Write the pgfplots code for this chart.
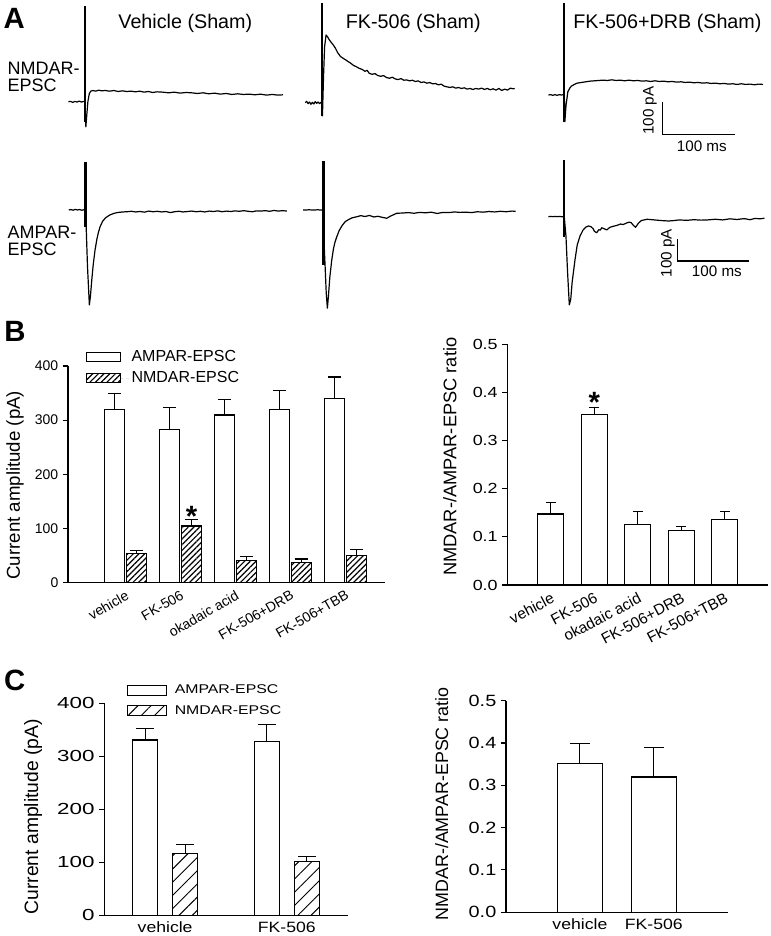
\documentclass[border=0pt]{standalone}
\usepackage{pgfplots}
\pgfplotsset{compat=1.18}
\usetikzlibrary{patterns.meta}
\usepackage{graphicx}
\usepackage{fontspec}
\setmainfont{Liberation Sans}
\newcommand{\hs}[2]{\scalebox{#1}[1]{#2}}
\pgfplotsset{
  trace/.style={black, line width=0.9pt, line join=round},
  artifact/.style={black, line width=1.8pt},
  tracax/.style={anchor=origin, hide axis, clip=false, x=0.54pt, xmin=-30, xmax=290},
  barax/.style={scale only axis, anchor=south west, axis x line*=bottom, axis y line*=left,
    axis line style={line width=0.8pt, black}, x tick style={draw=none},
    y tick style={line width=0.8pt, black}, tick align=outside, major tick length=3.75pt,
    /pgf/number format/assume math mode=true, enlargelimits=false},
  boxlegB/.style={legend image code/.code={\draw[##1] (0pt,-3.5pt) rectangle (25.5pt,3.5pt); \path[draw=none] (0pt,0pt) -- (31.5pt,0pt);}},
  boxlegC/.style={legend image code/.code={\draw[##1] (0pt,-3.75pt) rectangle (29pt,3.75pt); \path[draw=none] (0pt,0pt) -- (33.5pt,0pt);}},
  ebar/.style={error bars/.cd, y dir=plus, y explicit, error bar style={line width=0.8pt, black},
    error mark options={rotate=90, line width=0.8pt, mark size=#1, black}},
}
\begin{document}
\begin{tikzpicture}
\useasboundingbox (0,0) rectangle (578.25pt,702pt);
% ---------------- Panel A ----------------
\node[font=\bfseries\fontsize{22}{24}\selectfont] at (10.6pt,688.3pt) {A};
\node[font=\fontsize{14.8}{16}\selectfont] at (139pt,684.5pt) {Vehicle (Sham)};
\node[font=\fontsize{14.8}{16}\selectfont] at (310pt,684.5pt) {FK-506 (Sham)};
\node[font=\fontsize{14.8}{16}\selectfont] at (500.6pt,684.5pt) {FK-506+DRB (Sham)};
\node[font=\fontsize{13.5}{12.5}\selectfont, anchor=west, align=left, inner sep=0pt] at (5.5pt,644.5pt) {NMDAR-\\EPSC};
\node[font=\fontsize{13.5}{12.5}\selectfont, anchor=west, align=left, inner sep=0pt] at (5.5pt,521.4pt) {AMPAR-\\EPSC};

% NMDAR vehicle
\begin{axis}[tracax, at={(63.75pt,625.7pt)}, y=0.2475pt, ymin=-150, ymax=320]
\addplot[artifact] coordinates {(0,290) (0,-60)};
\addplot[trace] coordinates {(-23,0) (-20,1) (-17,-2) (-14,1) (-11,-1) (-8,2) (-5,-1) (-2,1) (0,0) (0.6,-40) (1.2,-76) (2.5,-40) (4,0) (6,25) (8,32) (11,34) (15,32) (19,35) (23,33) (28,34) (34,32) (40,34) (46,31) (52,33) (58,31) (64,32) (70,30) (76,32) (82,29) (88,31) (94,28) (100,30) (108,29) (116,27) (124,29) (132,26) (140,28) (148,27) (156,25) (164,27) (172,24) (180,26) (188,23) (196,25) (204,22) (212,24) (220,22) (228,23) (236,21) (244,23) (252,20) (260,22) (268,20) (275,21)};
\end{axis}
% NMDAR FK-506
\begin{axis}[tracax, at={(241.3pt,625.0pt)}, y=0.2475pt, ymin=-150, ymax=320]
\addplot[artifact] coordinates {(0,301) (0,-40)};
\addplot[trace] coordinates {(-23,0) (-21,4) (-19,-3) (-17,2) (-15,-5) (-13,1) (-11,-4) (-9,3) (-7,-2) (-5,2) (-3,-3) (-1,1) (0,0) (1,-40) (2.5,80) (4,170) (6,205) (8,200) (10,192) (13,183) (16,175) (19,165) (22,152) (26,140) (30,134) (33,130) (37,124) (40,120) (44,113) (48,109) (52,104) (56,101) (60,95) (63,98) (66,89) (70,86) (74,88) (78,82) (82,80) (86,82) (90,76) (94,74) (98,77) (102,72) (106,70) (110,73) (114,68) (118,69) (122,66) (126,68) (130,64) (134,66) (138,61) (142,63) (146,59) (150,61) (154,57) (158,58) (162,54) (166,56) (170,50) (174,48) (178,46) (182,48) (186,44) (190,46) (194,43) (198,45) (202,41) (206,43) (210,40) (214,43) (218,41) (222,44) (226,40) (230,43) (234,39) (238,42) (242,38) (246,43) (250,37) (254,41) (258,38) (262,44) (266,42) (268,43)};
\end{axis}
% NMDAR FK-506+DRB
\begin{axis}[tracax, at={(423.2pt,630.75pt)}, y=0.2475pt, ymin=-150, ymax=320]
\addplot[artifact] coordinates {(0,278) (0,-81)};
\addplot[trace] coordinates {(-22,0) (-19,1) (-16,-1) (-13,1) (-10,-1) (-7,1) (-4,0) (-1,1) (0,0) (0.8,-81) (2.5,-30) (5,10) (8,22) (10,27) (14,32) (18,36) (24,38) (30,40) (36,42) (42,43) (48,44) (54,45) (60,44) (66,46) (72,44) (78,45) (84,43) (90,45) (96,43) (102,44) (108,42) (114,43) (120,41) (126,43) (132,41) (138,42) (144,40) (150,41) (156,39) (162,40) (168,38) (174,39) (180,37) (186,38) (192,36) (198,37) (204,35) (210,36) (216,34) (222,35) (228,33) (234,34) (240,32) (246,34) (252,32) (258,33) (264,31) (270,33) (276,32)};
\addplot[black, line width=0.8pt] coordinates {(137,-20) (137,-120) (237,-120)};
\node[rotate=90, font=\fontsize{11.4}{13}\selectfont] at (axis cs:119,-47) {100 pA};
\node[font=\fontsize{11.4}{13}\selectfont] at (axis cs:191,-154) {100 ms};
\end{axis}

% AMPAR vehicle
\begin{axis}[tracax, at={(64.0pt,544.5pt)}, y=0.163pt, ymin=-500, ymax=300]
\addplot[artifact] coordinates {(0,222) (0,-80)};
\addplot[trace] coordinates {(-23,0) (-20,2) (-17,-1) (-14,3) (-11,0) (-8,2) (-5,-1) (-2,1) (0,0) (1,-60) (3,-260) (5.6,-437) (7,-400) (9,-320) (11,-250) (13.5,-184) (16,-135) (18,-105) (20.5,-77) (24,-52) (28,-36) (34,-23) (40,-15) (46,-11) (52,-9) (58,-8) (64,-6) (70,-9) (76,-7) (82,-10) (88,-5) (94,-8) (100,-6) (106,-9) (112,-7) (118,-12) (124,-8) (130,-6) (136,-9) (142,-7) (148,-5) (154,-8) (160,-6) (166,-9) (172,-5) (178,-7) (184,-4) (190,-8) (196,-5) (202,-7) (208,-4) (214,-6) (220,-3) (226,-6) (232,-8) (238,-4) (244,-5) (250,-3) (256,-6) (262,-2) (268,-5) (274,-3) (280,-5)};
\end{axis}
% AMPAR FK-506
\begin{axis}[tracax, at={(242.5pt,544.5pt)}, y=0.163pt, ymin=-500, ymax=300]
\addplot[artifact] coordinates {(0,225) (0,-253)};
\addplot[trace] coordinates {(-28,0) (-24,0) (-20,1) (-16,0) (-12,0) (-8,1) (-4,0) (0,0) (1,-150) (2.4,-253) (4,-380) (5.6,-452) (7,-400) (9,-310) (11.7,-230) (14,-180) (16,-150) (18.7,-123) (22,-95) (26,-72) (30.3,-54) (35,-44) (40,-36) (46.6,-31) (52,-26) (58,-30) (64,-25) (70,-32) (76,-29) (82,-34) (88,-38) (94,-27) (102,-15) (110,-14) (118,-12) (126,-15) (134,-11) (142,-13) (150,-10) (158,-16) (166,-11) (174,-12) (182,-9) (190,-11) (198,-10) (206,-12) (214,-8) (222,-10) (230,-7) (238,-9) (246,-6) (254,-8) (262,-5) (267,-6)};
\end{axis}
% AMPAR FK-506+DRB
\begin{axis}[tracax, at={(423.2pt,539.5pt)}, y=0.163pt, ymin=-500, ymax=300]
\addplot[artifact] coordinates {(0,261) (0,-92)};
\addplot[trace] coordinates {(-22,0) (-19,1) (-16,0) (-13,1) (-10,0) (-7,1) (-4,0) (-1,0) (0,0) (2.4,-92) (4.5,-250) (7,-406) (9,-380) (11,-300) (14.9,-199) (18,-130) (21.9,-89) (26,-62) (30,-48) (33.5,-43) (37,-46) (40,-55) (42,-68) (45,-74) (48,-60) (50,-62) (52,-51) (55,-55) (59,-61) (63,-50) (67,-45) (71,-42) (75,-38) (78,-34) (82,-36) (86,-30) (90,-25) (93,-28) (96,-40) (99,-49) (103,-30) (107,-18) (115,-12) (125,-15) (135,-18) (145,-20) (152,-18) (160,-15) (170,-17) (180,-14) (190,-16) (199,-15) (210,-12) (220,-15) (230,-10) (240,-13) (250,-9) (258,-14) (265,-8) (272,-10) (278,-7)};
\addplot[black, line width=0.8pt] coordinates {(157,-104) (157,-204) (257,-204)};
\node[rotate=90, font=\fontsize{11.4}{13}\selectfont] at (axis cs:144,-168) {100 pA};
\node[font=\fontsize{11.4}{13}\selectfont] at (axis cs:212,-253) {100 ms};
\end{axis}

% ---------------- Panel B ----------------
\node[font=\bfseries\fontsize{22}{24}\selectfont] at (11.25pt,453.2pt) {B};
\begin{axis}[barax, at={(51pt,265pt)}, width=237.75pt, height=162.5pt,
  xmin=-0.042, xmax=5.72, ymin=0, ymax=400,
  ytick={0,100,200,300,400}, yticklabels={0,100,200,300,400}, xtick={1,2,3,4,5},
  xticklabels={vehicle,FK-506,okadaic acid,FK-506+DRB,FK-506+TBB},
  yticklabel style={font=\fontsize{10.5}{12}\selectfont},
  xticklabel style={font=\fontsize{10.5}{12}\selectfont, rotate=30, anchor=north east, inner sep=1pt},
  ylabel={Current amplitude (pA)},
  ylabel style={at={(axis description cs:-0.167,0.45)}, anchor=center, font=\fontsize{14}{16}\selectfont},
  legend style={draw=none, fill=none, at={(axis description cs:0.057,1.085)}, anchor=north west,
    font=\fontsize{12}{14}\selectfont, row sep=2pt, inner sep=0pt, cells={anchor=west}},
  legend cell align=left]
\addplot[ybar, bar width=15pt, bar shift=0pt, draw=black, fill=white, line width=0.8pt, boxlegB, ebar=5pt]
  coordinates {(0.802,319) +- (0,31) (1.802,283) +- (0,40) (2.802,309.5) +- (0,28.3) (3.802,319.4) +- (0,35.1) (4.802,340.3) +- (0,39.4)};
\addlegendentry{AMPAR-EPSC}
\addplot[ybar, bar width=15pt, bar shift=0pt, draw=black, line width=0.8pt,
  pattern={Lines[angle=45,distance=3pt,line width=0.9pt]}, boxlegB, ebar=5pt]
  coordinates {(1.198,53.5) +- (0,5.5) (2.198,104.6) +- (0,12.4) (3.198,40.6) +- (0,7.4) (4.198,37.5) +- (0,6.2) (5.198,49.8) +- (0,12.2)};
\addlegendentry{NMDAR-EPSC}
\node[font=\bfseries\fontsize{22}{24}\selectfont, anchor=base, inner sep=0pt] at (axis cs:2.205,103) {*};
\end{axis}

\begin{axis}[barax, at={(380.5pt,263.25pt)}, width=195.75pt, height=180.5pt,
  xmin=0, xmax=6, ymin=0, ymax=0.5,
  ytick={0,0.1,0.2,0.3,0.4,0.5},
  yticklabels={\hs{1.22}{0.0},\hs{1.22}{0.1},\hs{1.22}{0.2},\hs{1.22}{0.3},\hs{1.22}{0.4},\hs{1.22}{0.5}},
  xtick={1,2,3,4,5},
  yticklabel style={font=\fontsize{11}{13}\selectfont},
  xticklabels={vehicle,FK-506,okadaic acid,FK-506+DRB,FK-506+TBB},
  xticklabel style={font=\fontsize{11.5}{13}\selectfont, rotate=28, anchor=north east, inner sep=1pt},
  ylabel={NMDAR-/AMPAR-EPSC ratio},
  ylabel style={at={(axis description cs:-0.22,0.533)}, anchor=center, font=\fontsize{13.7}{16}\selectfont}]
\addplot[ybar, bar width=19.5pt, bar shift=0pt, draw=black, fill=white, line width=0.8pt, ebar=3.75pt]
  coordinates {(1,0.1475) +- (0,0.024) (2,0.355) +- (0,0.014) (3,0.125) +- (0,0.027) (4,0.113) +- (0,0.009) (5,0.136) +- (0,0.016)};
\node[font=\bfseries\fontsize{22}{24}\selectfont, anchor=base, inner sep=0pt] at (axis cs:2,0.359) {*};
\end{axis}

% ---------------- Panel C ----------------
\node[font=\bfseries\fontsize{22}{24}\selectfont] at (11.1pt,192pt) {C};
\begin{axis}[barax, at={(78.2pt,15.5pt)}, width=182.6pt, height=159pt,
  xmin=0.5, xmax=2.5, ymin=0, ymax=400,
  ytick={0,100,200,300,400},
  yticklabels={\hs{1.4}{0},\hs{1.4}{100},\hs{1.4}{200},\hs{1.4}{300},\hs{1.4}{400}},
  xtick={1,2}, xticklabels={\hs{1.18}{vehicle},\hs{1.18}{FK-506}},
  yticklabel style={font=\fontsize{12}{14}\selectfont},
  xticklabel style={font=\fontsize{11.2}{13}\selectfont, anchor=north, inner sep=1pt},
  ylabel={Current amplitude (pA)},
  ylabel style={at={(axis description cs:-0.292,0.465)}, anchor=center, font=\fontsize{14.5}{16}\selectfont},
  legend style={draw=none, fill=none, at={(axis description cs:0.092,1.10)}, anchor=north west,
    font=\fontsize{9.5}{11}\selectfont, row sep=3pt, inner sep=0pt, cells={anchor=west}},
  legend cell align=left]
\addplot[ybar, bar width=18.5pt, bar shift=0pt, draw=black, fill=white, line width=0.8pt, boxlegC, ebar=6.6pt]
  coordinates {(0.835,330.8) +- (0,22) (1.835,328.3) +- (0,32.1)};
\addlegendentry{\hs{1.25}{AMPAR-EPSC}}
\addplot[ybar, bar width=18.5pt, bar shift=0pt, draw=black, line width=0.8pt,
  pattern={Lines[angle=45,distance=7pt,line width=0.7pt]}, boxlegC, ebar=6.6pt]
  coordinates {(1.165,117) +- (0,16.3) (2.165,101.9) +- (0,8.8)};
\addlegendentry{\hs{1.25}{NMDAR-EPSC}}
\end{axis}

\begin{axis}[barax, at={(379.5pt,17.8pt)}, width=166.3pt, height=158.7pt,
  xmin=0, xmax=3, ymin=0, ymax=0.5,
  ytick={0,0.1,0.2,0.3,0.4,0.5},
  yticklabels={\hs{1.22}{0.0},\hs{1.22}{0.1},\hs{1.22}{0.2},\hs{1.22}{0.3},\hs{1.22}{0.4},\hs{1.22}{0.5}},
  xtick={1,2}, xticklabels={\hs{1.18}{vehicle},\hs{1.18}{FK-506}},
  yticklabel style={font=\fontsize{12.2}{14}\selectfont},
  xticklabel style={font=\fontsize{11.2}{13}\selectfont, anchor=north, inner sep=1pt},
  ylabel={NMDAR-/AMPAR-EPSC ratio},
  ylabel style={at={(axis description cs:-0.29,0.512)}, anchor=center, font=\fontsize{13.4}{16}\selectfont}]
\addplot[ybar, bar width=33.5pt, bar shift=0pt, draw=black, fill=white, line width=0.8pt, ebar=7.5pt]
  coordinates {(1,0.351) +- (0,0.047) (2,0.3197) +- (0,0.070)};
\end{axis}
\end{tikzpicture}
\end{document}
